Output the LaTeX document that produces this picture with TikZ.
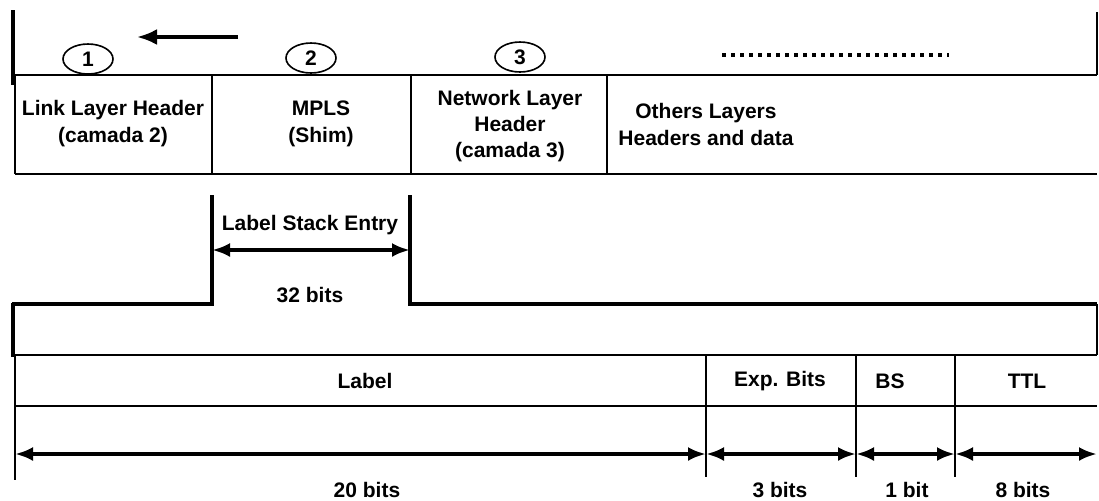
\documentclass[tikz,border=0pt]{standalone}
\usepackage{fontspec}
\setmainfont{Liberation Sans}
\usetikzlibrary{arrows.meta,shapes.geometric}
\begin{document}
\begin{tikzpicture}[x=0.5pt,y=-0.5pt,
  txt/.style={font=\fontsize{10.5}{13.5}\selectfont\bfseries, align=center, inner sep=0pt},
  txtb/.style={font=\fontsize{10.5}{12.8}\selectfont\bfseries, align=center, inner sep=0pt},
  hair/.style={line width=0.7pt},
  rowline/.style={line width=1pt},
  heavy/.style={line width=1.6pt},
  dimarrow/.style={line width=1.8pt, {Latex[length=9pt,width=7pt]}-{Latex[length=9pt,width=7pt]}},
  num/.style={draw, ellipse, line width=0.8pt, minimum width=25pt, minimum height=15pt, inner sep=0pt, font=\fontsize{10.5}{12}\selectfont\bfseries}]
\useasboundingbox (0,0) rectangle (1099,500);

% ---------- top part ----------
\coordinate (tl1) at (13,10);
\coordinate (tl2) at (13,85);
\draw[line width=2pt] (tl1) -- (tl2);
\coordinate (tr1) at (1097,12);
\coordinate (tr2) at (1097,75);
\draw[hair] (tr1) -- (tr2);

\coordinate (dirS) at (238,37);
\coordinate (dirE) at (137,37);
\draw[line width=1.8pt, -{Latex[length=10pt,width=8pt]}] (dirS) -- (dirE);

\node[num] (c1) at (88,59) {1};
\node[num] (c2) at (311,58) {2};
\node[num] (c3) at (520,57) {3};

\coordinate (dotS) at (722,55);
\coordinate (dotE) at (949,55);
\draw[line width=2.2pt, dash pattern=on 2.2pt off 2.3pt] (dotS) -- (dotE);

% header row
\coordinate (hA) at (15,75);  \coordinate (hA') at (15,174);
\coordinate (hB) at (212,75); \coordinate (hB') at (212,174);
\coordinate (hC) at (411,75); \coordinate (hC') at (411,174);
\coordinate (hD) at (607,75); \coordinate (hD') at (607,174);
\coordinate (hE) at (1097,75); \coordinate (hE') at (1097,174);
\draw[rowline] (hA) -- (hE);
\draw[rowline] (hA') -- (hE');
\draw[rowline] (hA) -- (hA');
\draw[rowline] (hB) -- (hB');
\draw[rowline] (hC) -- (hC');
\draw[rowline] (hD) -- (hD');

\node[txt] (link) at (113,123.5) {Link Layer Header\\(camada 2)};
\node[txt] (mpls) at (321,123.5) {MPLS\\(Shim)};
\node[txtb] (net) at (510,126) {Network Layer\\Header\\(camada 3)};
\node[txt] (oth) at (706,124.5) {Others Layers\\Headers and data};

% ---------- label stack entry ----------
\coordinate (sL0) at (12,304);
\coordinate (sL1) at (212,304);
\coordinate (sL2) at (212,195);
\coordinate (sR2) at (410,195);
\coordinate (sR1) at (410,304);
\coordinate (sR0) at (1097,304);
\draw[heavy] (sL0) -- (sL1) -- (sL2);
\draw[heavy] (sR2) -- (sR1) -- (sR0);

\node[txt] (lse) at (310,225) {Label Stack Entry};
\coordinate (lseA) at (212,250);
\coordinate (lseB) at (410,250);
\draw[dimarrow] (lseA) -- (lseB);
\node[txt] (b32) at (310,295) {32 bits};

% ---------- field row ----------
\coordinate (m0) at (13,303);
\coordinate (m1) at (13,357);
\draw[line width=2pt] (m0) -- (m1);
\coordinate (mr0) at (1097,304);
\coordinate (mr1) at (1097,355);
\draw[hair] (mr0) -- (mr1);

\coordinate (fA) at (15,355);   \coordinate (fA2) at (15,406);   \coordinate (fA3) at (15,480);
\coordinate (fE) at (1097,355); \coordinate (fE2) at (1097,406);
\draw[rowline] (fA) -- (fE);
\draw[line width=1.2pt] (fA2) -- (fE2);
\draw[hair] (fA) -- (fA3);

\coordinate (dA) at (706,355); \coordinate (dA3) at (706,477);
\coordinate (dB) at (856,355); \coordinate (dB3) at (856,477);
\coordinate (dC) at (955,355); \coordinate (dC3) at (955,477);
\draw[hair] (dA) -- (dA3);
\draw[line width=1pt] (dB) -- (dB3);
\draw[line width=1pt] (dC) -- (dC3);

\node[txt] (flabel) at (365,381) {Label};
\node[txt] (fexp) at (780,381) {Exp. Bits};
\node[txt] (fbs) at (890,381) {BS};
\node[txt] (fttl) at (1027,381) {TTL};

\coordinate (a0) at (15,454);
\coordinate (a1) at (706,454);
\coordinate (a2) at (856,454);
\coordinate (a3) at (955,454);
\coordinate (a4) at (1097,454);
\draw[dimarrow] (a0) -- (a1);
\draw[dimarrow] (a1) -- (a2);
\draw[dimarrow] (a2) -- (a3);
\draw[dimarrow] (a3) -- (a4);

\node[txt] (w20) at (367,490) {20 bits};
\node[txt] (w3) at (780,490) {3 bits};
\node[txt] (w1) at (907,490) {1 bit};
\node[txt] (w8) at (1023,490) {8 bits};
\end{tikzpicture}
\end{document}
